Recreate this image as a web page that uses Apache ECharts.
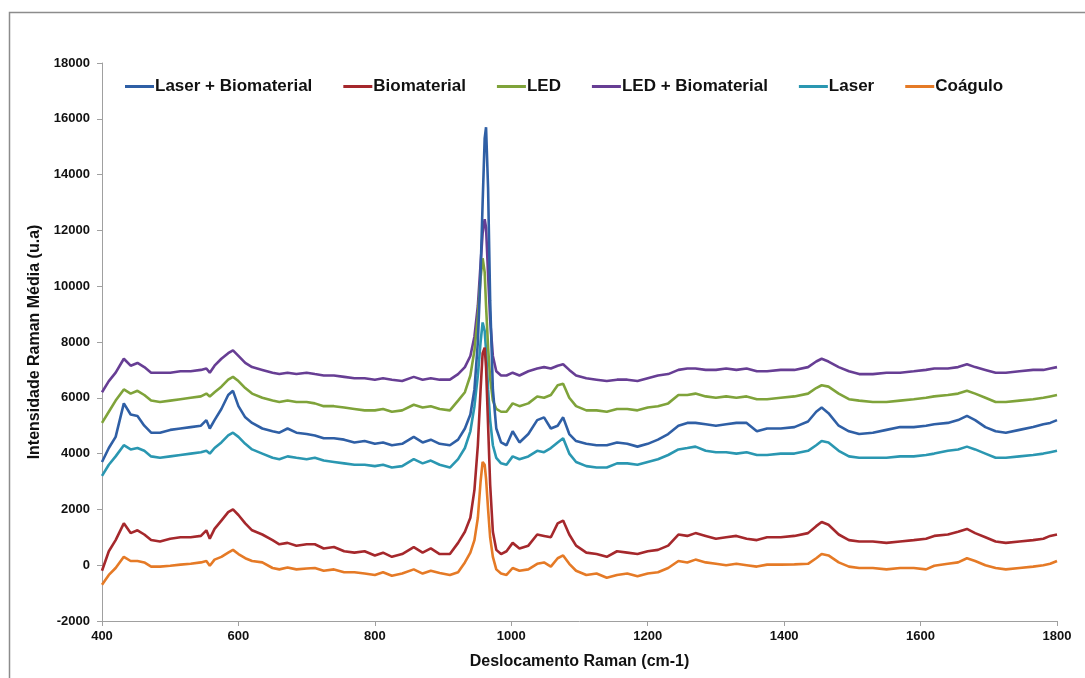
<!DOCTYPE html>
<html>
<head>
<meta charset="utf-8">
<script src="https://cdn.jsdelivr.net/npm/echarts@6/dist/echarts.min.js"></script>
<style>
html,body{margin:0;padding:0;background:#fff;}
#chart{width:1085px;height:678px;}
</style>
</head>
<body>
<div id="chart"></div>
<script>
const ramanShift = [400,410,420,432,442,452,462,472,485,500,
515,530,545,553,558,565,575,585,592,600,
610,620,635,650,660,672,685,700,712,725,
740,755,770,785,800,812,825,840,857,870,
882,895,910,922,932,940,946,951,955,958,
961,963,966,969,973,978,985,993,1002,1012,
1025,1038,1048,1058,1068,1076,1085,1095,1110,1125,
1140,1155,1170,1185,1200,1215,1230,1245,1258,1270,
1285,1300,1315,1330,1345,1360,1375,1395,1415,1435,
1447,1455,1465,1480,1495,1510,1530,1550,1570,1590,
1608,1620,1640,1655,1668,1680,1695,1710,1725,1745,
1765,1780,1790,1800];

const seriesNames = ["Laser + Biomaterial","Biomaterial","LED","LED + Biomaterial","Laser","Coágulo"];
const seriesColors = ["#2F5FA5","#A5282C","#7FA33A","#673E94","#2A97B1","#E57A26"];

const laserBiomaterial = [3700,4200,4600,5800,5400,5350,5000,4750,4750,4850,
4900,4950,5000,5200,4900,5200,5600,6100,6250,5700,
5300,5100,4900,4800,4750,4900,4750,4700,4650,4550,
4550,4500,4400,4450,4350,4400,4300,4350,4600,4400,
4500,4350,4300,4500,4900,5400,6300,8000,10500,13000,
15300,15700,13500,9500,6300,4900,4400,4300,4800,4400,
4700,5200,5300,4900,5000,5300,4700,4450,4350,4300,
4300,4400,4350,4250,4350,4500,4700,5000,5100,5100,
5050,5000,5050,5100,5100,4800,4900,4900,4950,5150,
5500,5650,5450,5000,4800,4700,4750,4850,4950,4950,
5000,5050,5100,5200,5350,5200,4950,4800,4750,4850,
4950,5050,5100,5200];

const biomaterial = [-200,500,900,1500,1150,1250,1100,900,850,950,
1000,1000,1050,1250,950,1300,1600,1900,2000,1800,
1500,1250,1100,900,750,800,700,750,750,600,
650,500,450,500,350,450,300,400,650,450,
600,400,400,800,1200,1700,2700,4300,6300,7600,
7800,7100,5000,2900,1200,550,400,500,800,600,
700,1100,1050,1000,1500,1600,1100,700,450,400,
300,500,450,400,500,550,700,1100,1050,1150,
1050,950,1000,1050,950,900,1000,1000,1050,1150,
1400,1550,1450,1100,900,850,850,800,850,900,
950,1050,1100,1200,1300,1150,1000,850,800,850,
900,950,1050,1100];

const led = [5100,5500,5900,6300,6150,6250,6100,5900,5850,5900,
5950,6000,6050,6150,6050,6200,6400,6650,6750,6600,
6350,6150,6000,5900,5850,5900,5850,5850,5800,5700,
5700,5650,5600,5550,5550,5600,5500,5550,5750,5650,
5700,5600,5550,5900,6200,6800,7700,8900,10300,11000,
10500,9300,7800,6700,5900,5600,5500,5500,5800,5700,
5800,6050,6000,6100,6450,6500,6000,5700,5550,5550,
5500,5600,5600,5550,5650,5700,5800,6100,6100,6150,
6050,6000,6050,6000,6050,5950,5950,6000,6050,6150,
6350,6450,6400,6150,5950,5900,5850,5850,5900,5950,
6000,6050,6100,6150,6250,6150,6000,5850,5850,5900,
5950,6000,6050,6100];

const ledBiomaterial = [6200,6600,6900,7400,7150,7250,7100,6900,6900,6900,
6950,6950,7000,7050,6900,7150,7400,7600,7700,7500,
7250,7100,7000,6900,6850,6900,6850,6900,6850,6800,
6800,6750,6700,6700,6650,6700,6650,6600,6750,6650,
6700,6650,6650,6850,7100,7500,8200,9300,10800,11900,
12400,12100,10400,8800,7500,6950,6800,6800,6900,6800,
6950,7050,7100,7050,7150,7200,7000,6800,6700,6650,
6600,6650,6650,6600,6700,6800,6850,7000,7050,7050,
7000,7000,7050,7000,7050,6950,6950,7000,7000,7100,
7300,7400,7300,7100,6950,6850,6850,6900,6900,6950,
7000,7050,7050,7100,7200,7100,7000,6900,6900,6950,
7000,7000,7050,7100];

const laser = [3200,3600,3900,4300,4150,4200,4100,3900,3850,3900,
3950,4000,4050,4100,4000,4200,4400,4650,4750,4600,
4350,4150,4000,3850,3800,3900,3850,3800,3850,3750,
3700,3650,3600,3600,3550,3600,3500,3550,3800,3650,
3750,3600,3500,3800,4200,4800,5700,6800,8000,8700,
8400,7700,6300,5200,4300,3850,3650,3600,3900,3800,
3900,4100,4050,4200,4400,4550,4000,3700,3550,3500,
3500,3650,3650,3600,3700,3800,3950,4150,4200,4250,
4100,4050,4050,4000,4050,3950,3950,4000,4000,4100,
4300,4450,4400,4100,3900,3850,3850,3850,3900,3900,
3950,4000,4100,4150,4250,4150,4000,3850,3850,3900,
3950,4000,4050,4100];

const coagulo = [-700,-350,-100,300,150,150,100,-50,-50,-20,
20,50,100,150,-20,200,300,450,550,400,
250,150,100,-100,-150,-80,-150,-120,-100,-200,
-150,-250,-250,-300,-350,-250,-380,-300,-150,-300,
-200,-280,-350,-250,100,450,900,1700,3000,3700,
3600,3100,2000,1000,300,-150,-300,-350,-100,-200,
-150,50,100,-50,250,350,50,-200,-350,-300,
-450,-350,-300,-400,-300,-250,-100,150,100,200,
100,50,0,50,0,-50,20,20,30,50,
250,400,350,100,-50,-100,-100,-150,-100,-100,
-150,-20,50,100,250,150,0,-100,-150,-100,
-50,0,50,150];

const yTicks = {min:-2000, max:18000, interval:2000};
const xTicks = {min:400, max:1800, interval:200};

const allValues = [laserBiomaterial, biomaterial, led, ledBiomaterial, laser, coagulo];
const FONT = "'Liberation Sans', Arial, sans-serif";

const chart = echarts.init(document.getElementById('chart'), null, {renderer:'canvas'});
chart.setOption({
  animation:false,
  backgroundColor:'#fff',
  graphic:[{
    type:'rect', left:7, top:10, silent:true,
    shape:{x:0,y:0,width:1100,height:700},
    style:{fill:'none', stroke:'#8c8c8c', lineWidth:1.5}
  }],
  legend:{
    top:73, left:120, itemGap:31, itemWidth:29, itemHeight:3, icon:'rect',
    textStyle:{fontFamily:FONT, fontWeight:'bold', fontSize:17, color:'#111', padding:[0,0,0,-4]},
    data:seriesNames
  },
  grid:{left:102, right:28, top:63, bottom:57, containLabel:false},
  xAxis:{
    type:'value', min:xTicks.min, max:xTicks.max, interval:xTicks.interval,
    name:'Deslocamento Raman (cm-1)', nameLocation:'middle', nameGap:33,
    nameTextStyle:{fontFamily:FONT, fontWeight:'bold', fontSize:16, color:'#111'},
    axisLine:{onZero:false, lineStyle:{color:'#a0a0a0', width:1}},
    axisTick:{show:true, length:5, lineStyle:{color:'#a0a0a0'}},
    axisLabel:{fontFamily:FONT, fontWeight:'bold', fontSize:13, color:'#111', margin:9,
      formatter: v => String(v)},
    splitLine:{show:false}
  },
  yAxis:{
    type:'value', min:yTicks.min, max:yTicks.max, interval:yTicks.interval,
    name:'Intensidade Raman Média (u.a)', nameLocation:'middle', nameGap:54, nameRotate:90,
    nameTextStyle:{fontFamily:FONT, fontWeight:'bold', fontSize:16, color:'#111'},
    axisLine:{show:true, onZero:false, lineStyle:{color:'#a0a0a0', width:1}},
    axisTick:{show:true, length:5, inside:false, lineStyle:{color:'#a0a0a0'}},
    axisLabel:{fontFamily:FONT, fontWeight:'bold', fontSize:13, color:'#111', margin:12,
      formatter: v => String(v)},
    splitLine:{show:false}
  },
  series: seriesNames.map((name, i) => ({
    name, type:'line', showSymbol:false, symbol:'none',
    color: seriesColors[i],
    lineStyle:{color:seriesColors[i], width:2.6},
    data: ramanShift.map((x, k) => [x, allValues[i][k]]),
    z: 10 - i
  }))
});
</script>
</body>
</html>
